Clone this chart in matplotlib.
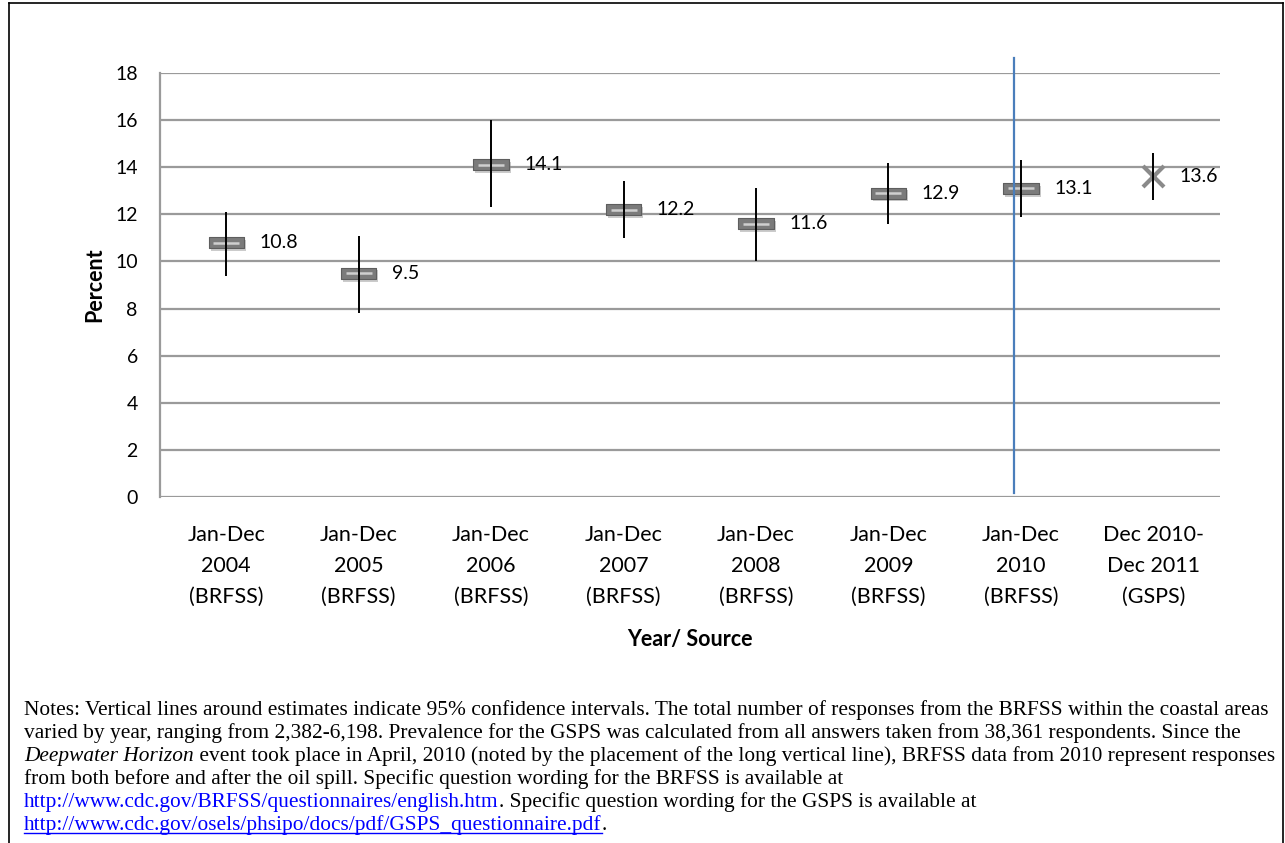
import matplotlib
matplotlib.use("Agg")
import matplotlib.pyplot as plt
import matplotlib.patheffects as pe
from matplotlib.path import Path
from matplotlib.lines import Line2D

# data
categories = ["Jan-Dec\n2004\n(BRFSS)", "Jan-Dec\n2005\n(BRFSS)", "Jan-Dec\n2006\n(BRFSS)",
              "Jan-Dec\n2007\n(BRFSS)", "Jan-Dec\n2008\n(BRFSS)", "Jan-Dec\n2009\n(BRFSS)",
              "Jan-Dec\n2010\n(BRFSS)", "Dec 2010-\nDec 2011\n(GSPS)"]
estimates = [10.8, 9.5, 14.1, 12.2, 11.6, 12.9, 13.1, 13.6]
lower = [9.4, 7.8, 12.3, 11.0, 10.0, 11.6, 11.9, 12.6]
upper = [12.1, 11.1, 16.0, 13.4, 13.1, 14.2, 14.3, 14.6]
y_ticks = [0, 2, 4, 6, 8, 10, 12, 14, 16, 18]
event_x = 6.45          # Deepwater Horizon line, in category units
event_span = [0.18, 18.65]

notes = [
    [("Notes: Vertical lines around estimates indicate 95% confidence intervals. The total number of responses from the BRFSS within the coastal areas", "n")],
    [("varied by year, ranging from 2,382-6,198. Prevalence for the GSPS was calculated from all answers taken from 38,361 respondents. Since the", "n")],
    [("Deepwater Horizon", "i"), (" event took place in April, 2010 (noted by the placement of the long vertical line), BRFSS data from 2010 represent responses", "n")],
    [("from both before and after the oil spill. Specific question wording for the BRFSS is available at", "n")],
    [("http://www.cdc.gov/BRFSS/questionnaires/english.htm", "l"), (". Specific question wording for the GSPS is available at", "n")],
    [("http://www.cdc.gov/osels/phsipo/docs/pdf/GSPS_questionnaire.pdf", "u"), (".", "n")],
]

plt.rcParams['font.family'] = ['Lato', 'DejaVu Sans']

W, H = 1285, 843
fig = plt.figure(figsize=(W / 100, H / 100), dpi=100)
ax = fig.add_axes([160 / W, 1 - 497 / H, (1219.5 - 160) / W, (497 - 73) / H])

n = len(categories)
xs = [i + 0.5 for i in range(n)]

# rectangular "dash" markers for BRFSS years
rect = Path([(-3.2, -1), (3.2, -1), (3.2, 1), (-3.2, 1), (-3.2, -1)],
            [Path.MOVETO, Path.LINETO, Path.LINETO, Path.LINETO, Path.CLOSEPOLY])
shadow = [pe.SimplePatchShadow(offset=(1.5, -2), shadow_rgbFace='0.55', alpha=0.45), pe.Normal()]

ax.plot(xs[:-1], estimates[:-1], ls='none', marker=rect, ms=25.5, mfc='#7b7b7b', mec='#5e5e5e',
        mew=0.8, zorder=3, path_effects=shadow)
ax.plot(xs[:-1], estimates[:-1], ls='none', marker='_', ms=19, mew=1.8, mec='#cfcfcf', zorder=3.5)
ax.plot(xs[-1:], estimates[-1:], ls='none', marker='x', ms=15, mew=3, mec='#8a8a8a', zorder=3,
        path_effects=shadow)

# confidence intervals
ax.vlines(xs, lower, upper, color='black', lw=1.4, zorder=4)

for i, (x, v) in enumerate(zip(xs, estimates)):
    off = 19 if i == n - 1 else 24
    ax.annotate(f"{v}", (x, v), xytext=(off, 0), textcoords='offset points',
                ha='left', va='center', fontsize=14)

# event line
ax.plot([event_x, event_x], event_span, color='#4a7ebb', lw=1.6, clip_on=False, zorder=5)

ax.set_xlim(0, n)
ax.set_ylim(0, 18)
ax.set_yticks(y_ticks)
ax.set_xticks(xs)
ax.set_xticklabels(categories, fontsize=15.5, linespacing=1.7)
ax.tick_params(axis='y', length=0, pad=16, labelsize=14)
ax.tick_params(axis='x', length=0, pad=20)
ax.yaxis.grid(True, color='#9a9a9a', lw=1.6)
ax.set_axisbelow(True)
for s in ['top', 'right', 'bottom']:
    ax.spines[s].set_visible(False)
ax.spines['left'].set_color('#9a9a9a')
ax.spines['left'].set_linewidth(1.6)
ax.set_ylabel("Percent", fontsize=15.5, fontweight='bold', labelpad=7)
ax.set_xlabel("Year/ Source", fontsize=15.5, fontweight='bold', labelpad=16)

# outer frame
frame = dict(color='black', lw=1.2, transform=fig.transFigure, clip_on=False)
fig.add_artist(Line2D([9 / W, 9 / W], [0, 1 - 3 / H], **frame))
fig.add_artist(Line2D([9 / W, 1283 / W], [1 - 3 / H, 1 - 3 / H], **frame))
fig.add_artist(Line2D([1283 / W, 1283 / W], [0, 1 - 3 / H], **frame))

# notes below the chart
fig.canvas.draw()
renderer = fig.canvas.get_renderer()
styles = {"n": dict(color='black'), "i": dict(color='black', style='italic'),
          "l": dict(color='#0000ff'), "u": dict(color='#0000ff')}
for k, line in enumerate(notes):
    base = 715 + 23 * k
    x = 24
    for txt, st in line:
        t = fig.text(x / W, 1 - base / H, txt, fontsize=15.4, va='baseline',
                     family='Liberation Serif', **styles[st])
        bb = t.get_window_extent(renderer)
        if st == "u":
            fig.add_artist(Line2D([bb.x0 / W, bb.x1 / W], [1 - (base + 3) / H] * 2,
                                  color='#0000ff', lw=1, transform=fig.transFigure))
        x = bb.x1

fig.savefig("out.png", dpi=100)
